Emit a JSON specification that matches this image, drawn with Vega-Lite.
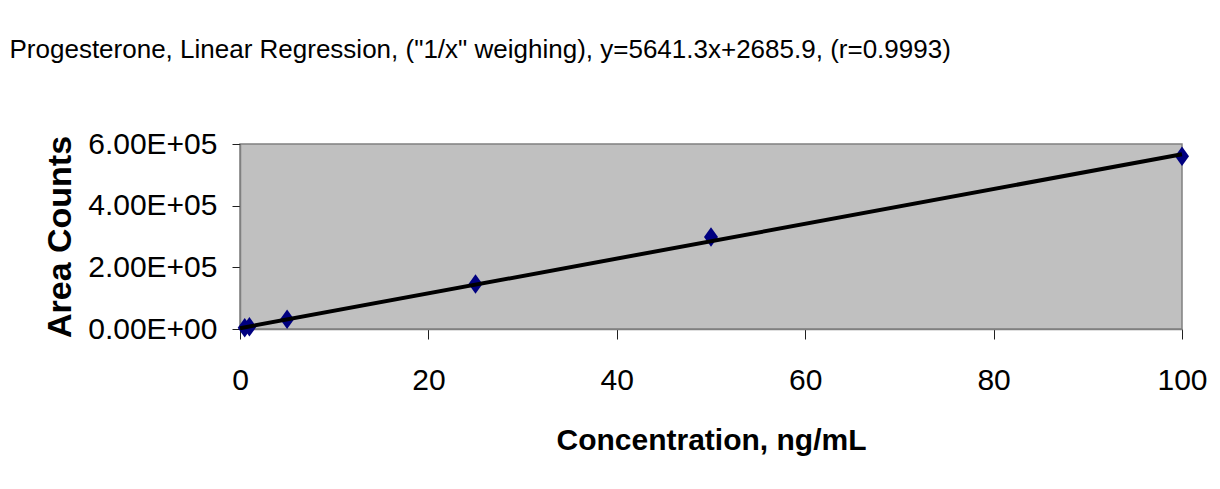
{
  "$schema": "https://vega.github.io/schema/vega-lite/v6.json",
  "autosize": "none",
  "width": 942,
  "height": 185,
  "padding": {"left": 240, "top": 144, "right": 38, "bottom": 160},
  "background": "#ffffff",
  "config": {
    "font": "Liberation Sans",
    "view": {"fill": "#C0C0C0", "stroke": "#808080", "strokeWidth": 1.5}
  },
  "title": {
    "text": "Progesterone, Linear Regression, (\"1/x\" weighing), y=5641.3x+2685.9, (r=0.9993)",
    "anchor": "start",
    "frame": "group",
    "font": "Liberation Sans",
    "fontSize": 26,
    "fontWeight": "normal",
    "color": "#000000",
    "dx": -230.5,
    "baseline": "alphabetic",
    "offset": 0,
    "dy": -45
  },
  "datasets": {
    "points": [
      {"conc": 0.5, "area": 4000},
      {"conc": 1, "area": 7000},
      {"conc": 5, "area": 31500},
      {"conc": 25, "area": 146000},
      {"conc": 50, "area": 298000},
      {"conc": 100, "area": 560000}
    ],
    "fit": [
      {"conc": 0, "area": 2685.9},
      {"conc": 100, "area": 566815.9}
    ]
  },
  "layer": [
    {
      "data": {"name": "points"},
      "mark": {
        "type": "point",
        "shape": "M0,-1L0.72,0L0,1L-0.72,0Z",
        "size": 380,
        "filled": true,
        "fill": "#000080",
        "stroke": "#000080",
        "strokeWidth": 0,
        "opacity": 1,
        "clip": false
      },
      "encoding": {
        "x": {
          "field": "conc",
          "type": "quantitative",
          "scale": {"domain": [0, 100], "nice": false, "zero": false},
          "axis": {
            "values": [0, 20, 40, 60, 80, 100],
            "title": "Concentration, ng/mL",
            "titleFont": "Liberation Sans",
            "titleFontSize": 30,
            "titleFontWeight": "bold",
            "titleColor": "#000000",
            "titleBaseline": "alphabetic",
            "titleY": 120,
            "labelFont": "Liberation Sans",
            "labelFontSize": 30,
            "labelColor": "#000000",
            "labelPadding": 26,
            "labelFlush": false,
            "tickSize": 10,
            "tickColor": "#202020",
            "tickWidth": 1,
            "domainColor": "#808080",
            "domainWidth": 1.5,
            "grid": false
          }
        },
        "y": {
          "field": "area",
          "type": "quantitative",
          "scale": {"domain": [0, 600000], "nice": false, "zero": false},
          "axis": {
            "values": [0, 200000, 400000, 600000],
            "labelExpr": "replace(format(datum.value, '.2e'), 'e+', 'E+0')",
            "title": "Area Counts",
            "titleFont": "Liberation Sans",
            "titleFontSize": 34,
            "titleFontWeight": "bold",
            "titleColor": "#000000",
            "titleAngle": -90,
            "titleBaseline": "alphabetic",
            "titleX": -170,
            "labelFont": "Liberation Sans",
            "labelFontSize": 30,
            "labelColor": "#000000",
            "labelPadding": 15,
            "labelFlush": false,
            "tickSize": 8,
            "tickColor": "#202020",
            "tickWidth": 1,
            "domainColor": "#808080",
            "domainWidth": 1.5,
            "grid": false
          }
        }
      }
    },
    {
      "data": {"name": "fit"},
      "mark": {"type": "line", "color": "#000000", "strokeWidth": 4, "clip": false},
      "encoding": {
        "x": {"field": "conc", "type": "quantitative"},
        "y": {"field": "area", "type": "quantitative"}
      }
    }
  ]
}
